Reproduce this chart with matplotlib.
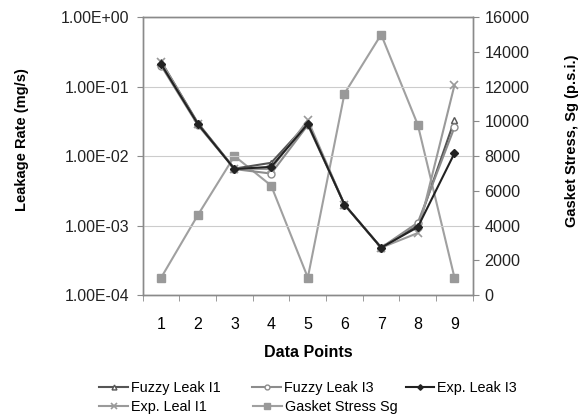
import matplotlib.pyplot as plt
from matplotlib.ticker import FixedLocator, FuncFormatter

plt.rcParams['font.family'] = ['Liberation Sans', 'DejaVu Sans']

points = [1, 2, 3, 4, 5, 6, 7, 8, 9]
fuzzy_leak_i1 = [0.23, 0.030, 0.0066, 0.0080, 0.030, 0.0020, 0.00048, 0.0010, 0.033]
fuzzy_leak_i3 = [0.20, 0.028, 0.0065, 0.0056, 0.028, 0.0020, 0.00048, 0.0011, 0.026]
exp_leak_i3 = [0.21, 0.029, 0.0065, 0.0070, 0.029, 0.0020, 0.00048, 0.00095, 0.011]
exp_leal_i1 = [0.23, 0.029, 0.0066, 0.0065, 0.033, 0.0020, 0.00048, 0.00078, 0.105]
gasket_stress = [1000, 4600, 8000, 6300, 1000, 11600, 15000, 9800, 1000]

fig = plt.figure(figsize=(5.83, 4.19), dpi=100)
ax = fig.add_axes([0.245, 0.296, 0.566, 0.663])
ax2 = ax.twinx()

frame = '#8a8a8a'
h1, = ax.plot(points, fuzzy_leak_i1, color='#555555', lw=1.5, marker='^', ms=5,
              mfc='white', mec='#555555', label='Fuzzy Leak I1', zorder=3)
h2, = ax.plot(points, fuzzy_leak_i3, color='#8c8c8c', lw=1.5, marker='o', ms=5,
              mfc='white', mec='#8c8c8c', label='Fuzzy Leak I3', zorder=3)
h3, = ax.plot(points, exp_leak_i3, color='#222222', lw=1.5, marker='D', ms=4,
              mfc='#222222', mec='#222222', label='Exp. Leak I3', zorder=4)
h4, = ax.plot(points, exp_leal_i1, color='#9a9a9a', lw=1.5, marker='x', ms=6,
              mew=1.2, label='Exp. Leal I1', zorder=3)
h5, = ax2.plot(points, gasket_stress, color='#a0a0a0', lw=1.5, marker='s', ms=6,
               mfc='#999999', mec='#999999', label='Gasket Stress Sg')

ax.set_zorder(ax2.get_zorder() + 1)
ax.patch.set_visible(False)

ax.set_yscale('log')
ax.set_ylim(1e-4, 1)
ax.yaxis.set_major_locator(FixedLocator([1e-4, 1e-3, 1e-2, 1e-1, 1]))
ax.yaxis.set_minor_locator(FixedLocator([]))
ax.yaxis.set_major_formatter(FuncFormatter(lambda v, p: f'{v:.2E}'))
ax.grid(axis='y', color='#cccccc', lw=0.8)
ax.set_axisbelow(True)

ax.set_xlim(0.5, 9.5)
ax.set_xticks(points)
ax.set_xticks([0.5 + i for i in range(10)], minor=True)
ax.tick_params(axis='x', which='major', length=0, labelsize=11.5, pad=16)
ax.tick_params(axis='x', which='minor', length=4, color=frame, direction='out')
ax.tick_params(axis='y', length=4.5, color=frame, labelsize=11.4, pad=5, labelcolor='#222222')

ax2.set_ylim(0, 16000)
ax2.set_yticks(range(0, 16001, 2000))
ax2.tick_params(axis='y', length=4.5, color=frame, labelsize=11.6, pad=4, labelcolor='#222222')

for a in (ax, ax2):
    for s in a.spines.values():
        s.set_color(frame)
        s.set_linewidth(1.0)

ax.set_ylabel('Leakage Rate (mg/s)', fontsize=10.5, fontweight='bold')
ax.yaxis.set_label_coords(-0.345, 0.56)
ax2.set_ylabel('Gasket Stress, Sg (p.s.i.)', fontsize=10.5, fontweight='bold')
ax2.yaxis.set_label_coords(1.279, 0.555)
ax.set_xlabel('Data Points', fontsize=11.5, fontweight='bold', labelpad=9)

# legend laid out as two rows below the chart
leg_kw = dict(frameon=False, fontsize=10.4, handlelength=2.0, handletextpad=0.2,
              borderpad=0, borderaxespad=0, markerscale=0.7, loc='center left')
row1 = fig.legend([h1, h2, h3], ['Fuzzy Leak I1', 'Fuzzy Leak I3', 'Exp. Leak I3'],
                  ncol=3, columnspacing=2.2, bbox_to_anchor=(0.170, 0.074), **leg_kw)
row2 = fig.legend([h4, h5], ['Exp. Leal I1', 'Gasket Stress Sg'],
                  ncol=2, columnspacing=3.2, bbox_to_anchor=(0.170, 0.029), **leg_kw)

plt.savefig('out.png', dpi=100)
